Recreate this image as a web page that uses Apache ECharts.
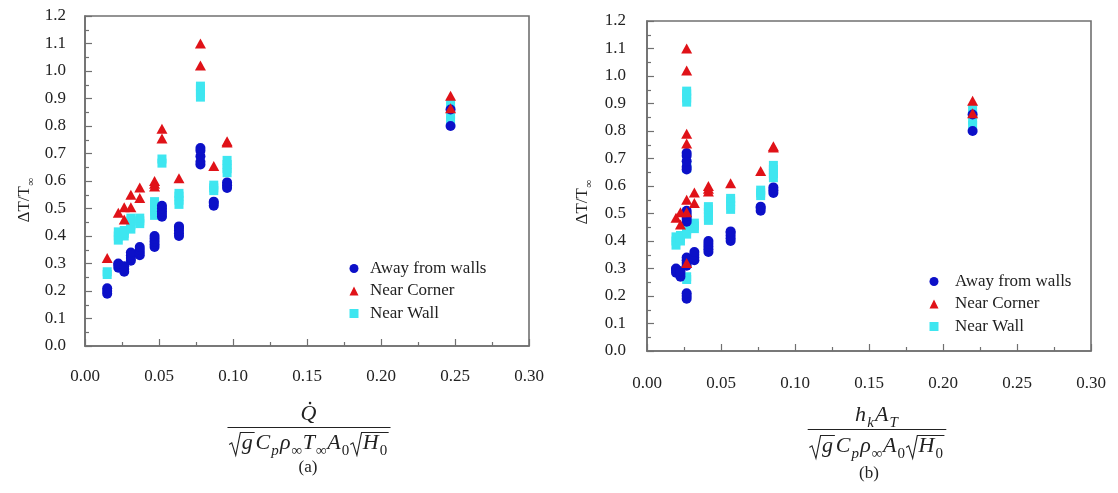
<!DOCTYPE html>
<html>
<head>
<meta charset="utf-8">
<script src="https://cdn.jsdelivr.net/npm/echarts@6/dist/echarts.min.js"></script>
<style>
  html, body { margin: 0; padding: 0; background: #fff; }
  #chart { width: 1118px; height: 493px; }
</style>
</head>
<body>
<div id="chart"></div>
<script>
// Abscissa of each test case: panel (a) heat-release group, panel (b) conduction group
const caseXa = [0.015, 0.0225, 0.0265, 0.031, 0.037, 0.047, 0.052, 0.0635, 0.078, 0.087, 0.096, 0.247];
const caseXb = [0.0268, 0.0196, 0.0226, 0.0268, 0.032, 0.0415, 0.0268, 0.0565, 0.0268, 0.0768, 0.0854, 0.22];

// ΔT/T∞ for each case, one list per sensor location
const awayFromWalls = [
  [0.19, 0.20, 0.21],
  [0.285, 0.295, 0.30],
  [0.27, 0.28, 0.29],
  [0.31, 0.32, 0.33, 0.34],
  [0.33, 0.34, 0.35, 0.36],
  [0.36, 0.37, 0.38, 0.39, 0.40],
  [0.47, 0.48, 0.49, 0.50, 0.51],
  [0.40, 0.41, 0.42, 0.43, 0.435],
  [0.66, 0.67, 0.69, 0.71, 0.72],
  [0.51, 0.52, 0.525],
  [0.575, 0.585, 0.595],
  [0.80, 0.86]
];
const nearCorner = [
  [0.32],
  [0.485],
  [0.505, 0.46],
  [0.55, 0.505],
  [0.576, 0.538],
  [0.60, 0.59, 0.58],
  [0.79, 0.755],
  [0.61],
  [1.10, 1.02],
  [0.655],
  [0.745, 0.74],
  [0.91, 0.865]
];
const nearWall = [
  [0.26, 0.27],
  [0.385, 0.40, 0.415],
  [0.40, 0.41, 0.42],
  [0.425, 0.44, 0.455, 0.465],
  [0.445, 0.455, 0.465],
  [0.475, 0.49, 0.505, 0.515, 0.525],
  [0.665, 0.68],
  [0.515, 0.53, 0.545, 0.555],
  [0.905, 0.92, 0.935, 0.945],
  [0.565, 0.575, 0.585],
  [0.63, 0.645, 0.66, 0.675],
  [0.82, 0.84, 0.86, 0.88]
];

const seriesNames = ['Away from walls', 'Near Corner', 'Near Wall'];
const xRange = [0, 0.30, 0.05];
const yRange = [0, 1.2, 0.1];

const SERIF = '"Liberation Serif", "Times New Roman", serif';
const INK = '#222';
const AXIS = '#707070';
const COLORS = { away: '#0c10c8', corner: '#e01218', wall: '#3ee6f0' };

function pairs(xs, groups) {
  const out = [];
  groups.forEach((vals, i) => vals.forEach(v => out.push([xs[i], v])));
  return out;
}

// ---- small typesetter for the axis formulas ----
const mctx = document.createElement('canvas').getContext('2d');
function fontStr(size, italic) { return (italic ? 'italic ' : '') + size + 'px ' + SERIF; }
function textW(t, size, italic) { mctx.font = fontStr(size, italic); return mctx.measureText(t).width; }

function layoutMath(tokens, S, s) {
  let x = 0;
  const out = [];
  tokens.forEach(tk => {
    if (tk.sqrt) {
      const inner = layoutMath(tk.sqrt, S, s);
      const lead = 0.6 * S, top = -0.84 * S;
      out.push({
        type: 'polyline', x: 0, y: 0, silent: true,
        shape: { points: [
          [x + 0.03 * S, -0.30 * S], [x + 0.15 * S, -0.37 * S], [x + 0.33 * S, 0.2 * S],
          [x + 0.54 * S, top], [x + lead + inner.width + 0.04 * S, top]
        ] },
        style: { stroke: INK, lineWidth: 1.1, fill: null }
      });
      inner.children.forEach(c => { c.x += x + lead; out.push(c); });
      x += lead + inner.width + 0.08 * S;
    } else {
      const size = tk.sub ? s : S;
      const base = tk.sub ? 0.22 * S : 0;
      const w = textW(tk.t, size, tk.it);
      out.push({
        type: 'text', x: x, y: base - 0.3375 * size, silent: true,
        style: { text: tk.t, font: fontStr(size, tk.it), fill: INK, textAlign: 'left', textVerticalAlign: 'middle' }
      });
      if (tk.dot) {
        out.push({ type: 'circle', x: x + w * 0.6, y: -0.86 * S, silent: true,
          shape: { cx: 0, cy: 0, r: 1.3 }, style: { fill: INK } });
      }
      x += w + (tk.it ? 0.05 * S : 0.02 * S);
    }
  });
  return { width: x, children: out };
}

function fraction(num, den, cx, numBase, barY, denBase, S, s) {
  const n = layoutMath(num, S, s), d = layoutMath(den, S, s);
  const W = Math.max(n.width, d.width) + 2;
  return [
    { type: 'group', x: cx - n.width / 2, y: numBase, children: n.children },
    { type: 'line', silent: true, shape: { x1: cx - W / 2, y1: barY, x2: cx + W / 2, y2: barY },
      style: { stroke: INK, lineWidth: 1.2 } },
    { type: 'group', x: cx - d.width / 2, y: denBase, children: d.children }
  ];
}

function verticalTitle(tokens, cx, cy, S, s) {
  const m = layoutMath(tokens, S, s);
  m.children.forEach(c => { c.x -= m.width / 2; c.y += 0.33 * S; });
  return { type: 'group', x: cx, y: cy, rotation: Math.PI / 2, children: m.children };
}

function caption(t, cx, base, S) {
  return { type: 'text', x: cx, y: base - 0.3375 * S, silent: true,
    style: { text: t, font: fontStr(S, false), fill: INK, textAlign: 'center', textVerticalAlign: 'middle' } };
}

const numA = [{ t: 'Q', it: 1, dot: 1 }];
const denA = [
  { sqrt: [{ t: 'g', it: 1 }] }, { t: 'C', it: 1 }, { t: 'p', it: 1, sub: 1 },
  { t: 'ρ', it: 1 }, { t: '∞', sub: 1 }, { t: 'T', it: 1 }, { t: '∞', sub: 1 },
  { t: 'A', it: 1 }, { t: '0', sub: 1 }, { sqrt: [{ t: 'H', it: 1 }, { t: '0', sub: 1 }] }
];
const numB = [{ t: 'h', it: 1 }, { t: 'k', it: 1, sub: 1 }, { t: 'A', it: 1 }, { t: 'T', it: 1, sub: 1 }];
const denB = [
  { sqrt: [{ t: 'g', it: 1 }] }, { t: 'C', it: 1 }, { t: 'p', it: 1, sub: 1 },
  { t: 'ρ', it: 1 }, { t: '∞', sub: 1 },
  { t: 'A', it: 1 }, { t: '0', sub: 1 }, { sqrt: [{ t: 'H', it: 1 }, { t: '0', sub: 1 }] }
];
const yTitle = [{ t: 'ΔT/T' }, { t: '∞', sub: 1 }];

// ---- axes ----
const grids = [
  { left: 85, top: 16, width: 444, height: 330 },
  { left: 647, top: 21, width: 444, height: 330 }
];

function xAxisFor(i, margin) {
  return {
    gridIndex: i, type: 'value', min: xRange[0], max: xRange[1], interval: xRange[2],
    axisLine: { show: true, onZero: false, lineStyle: { color: AXIS, width: 1.6 } },
    axisTick: { show: true, inside: true, length: 7, lineStyle: { color: AXIS, width: 1.2 } },
    minorTick: { show: true, splitNumber: 2, length: 4, lineStyle: { color: AXIS, width: 1.2 } },
    splitLine: { show: false },
    axisLabel: { margin: margin, color: INK, fontFamily: SERIF, fontSize: 17, formatter: v => v.toFixed(2) }
  };
}
function yAxisFor(i, margin) {
  return {
    gridIndex: i, type: 'value', min: yRange[0], max: yRange[1], interval: yRange[2],
    axisLine: { show: true, onZero: false, lineStyle: { color: AXIS, width: 1.6 } },
    axisTick: { show: true, inside: true, length: 7, lineStyle: { color: AXIS, width: 1.2 } },
    minorTick: { show: true, splitNumber: 2, length: 4, lineStyle: { color: AXIS, width: 1.2 } },
    splitLine: { show: false },
    axisLabel: { margin: margin, color: INK, fontFamily: SERIF, fontSize: 17, formatter: v => v.toFixed(1) }
  };
}

function panelSeries(i, xs) {
  const common = { type: 'scatter', xAxisIndex: i, yAxisIndex: i, silent: true, emphasis: { disabled: true } };
  return [
    Object.assign({}, common, { name: seriesNames[2], z: 2, symbol: 'rect', symbolSize: 9,
      itemStyle: { color: COLORS.wall, opacity: 1 }, data: pairs(xs, nearWall) }),
    Object.assign({}, common, { name: seriesNames[0], z: 3, symbol: 'circle', symbolSize: 10,
      itemStyle: { color: COLORS.away, opacity: 1 }, data: pairs(xs, awayFromWalls) }),
    Object.assign({}, common, { name: seriesNames[1], z: 4, symbol: 'triangle', symbolSize: [11, 10],
      itemStyle: { color: COLORS.corner, opacity: 1 }, data: pairs(xs, nearCorner) })
  ];
}

function legendAt(left, top, textPad) {
  return {
    orient: 'vertical', left: left, top: top, data: seriesNames, selectedMode: false,
    itemWidth: 9, itemHeight: 9, itemGap: 5.5, symbolKeepAspect: true,
    itemStyle: { opacity: 1 },
    textStyle: { fontFamily: SERIF, fontSize: 17, color: INK, lineHeight: 17, padding: [0, 0, 0, textPad] }
  };
}

const chart = echarts.init(document.getElementById('chart'), null, { renderer: 'canvas' });
chart.setOption({
  animation: false,
  backgroundColor: '#fff',
  grid: grids.map(g => Object.assign({ show: true, borderColor: AXIS, borderWidth: 1.6, backgroundColor: '#fff' }, g)),
  xAxis: [xAxisFor(0, 22), xAxisFor(1, 24)],
  yAxis: [yAxisFor(0, 19), yAxisFor(1, 21)],
  legend: [legendAt(344.5, 255, 6.5), legendAt(924.5, 268, 11.5)],
  series: panelSeries(0, caseXa).concat(panelSeries(1, caseXb)),
  graphic: { elements: [
    verticalTitle(yTitle, 25, 200, 17, 11),
    verticalTitle(yTitle, 583, 202, 17, 11),
    ...fraction(numA, denA, 309, 422, 427.5, 451, 22, 15),
    caption('(a)', 308, 473, 17),
    ...fraction(numB, denB, 877, 423, 429.5, 454, 22, 15),
    caption('(b)', 869, 479, 17)
  ] }
});
</script>
</body>
</html>
